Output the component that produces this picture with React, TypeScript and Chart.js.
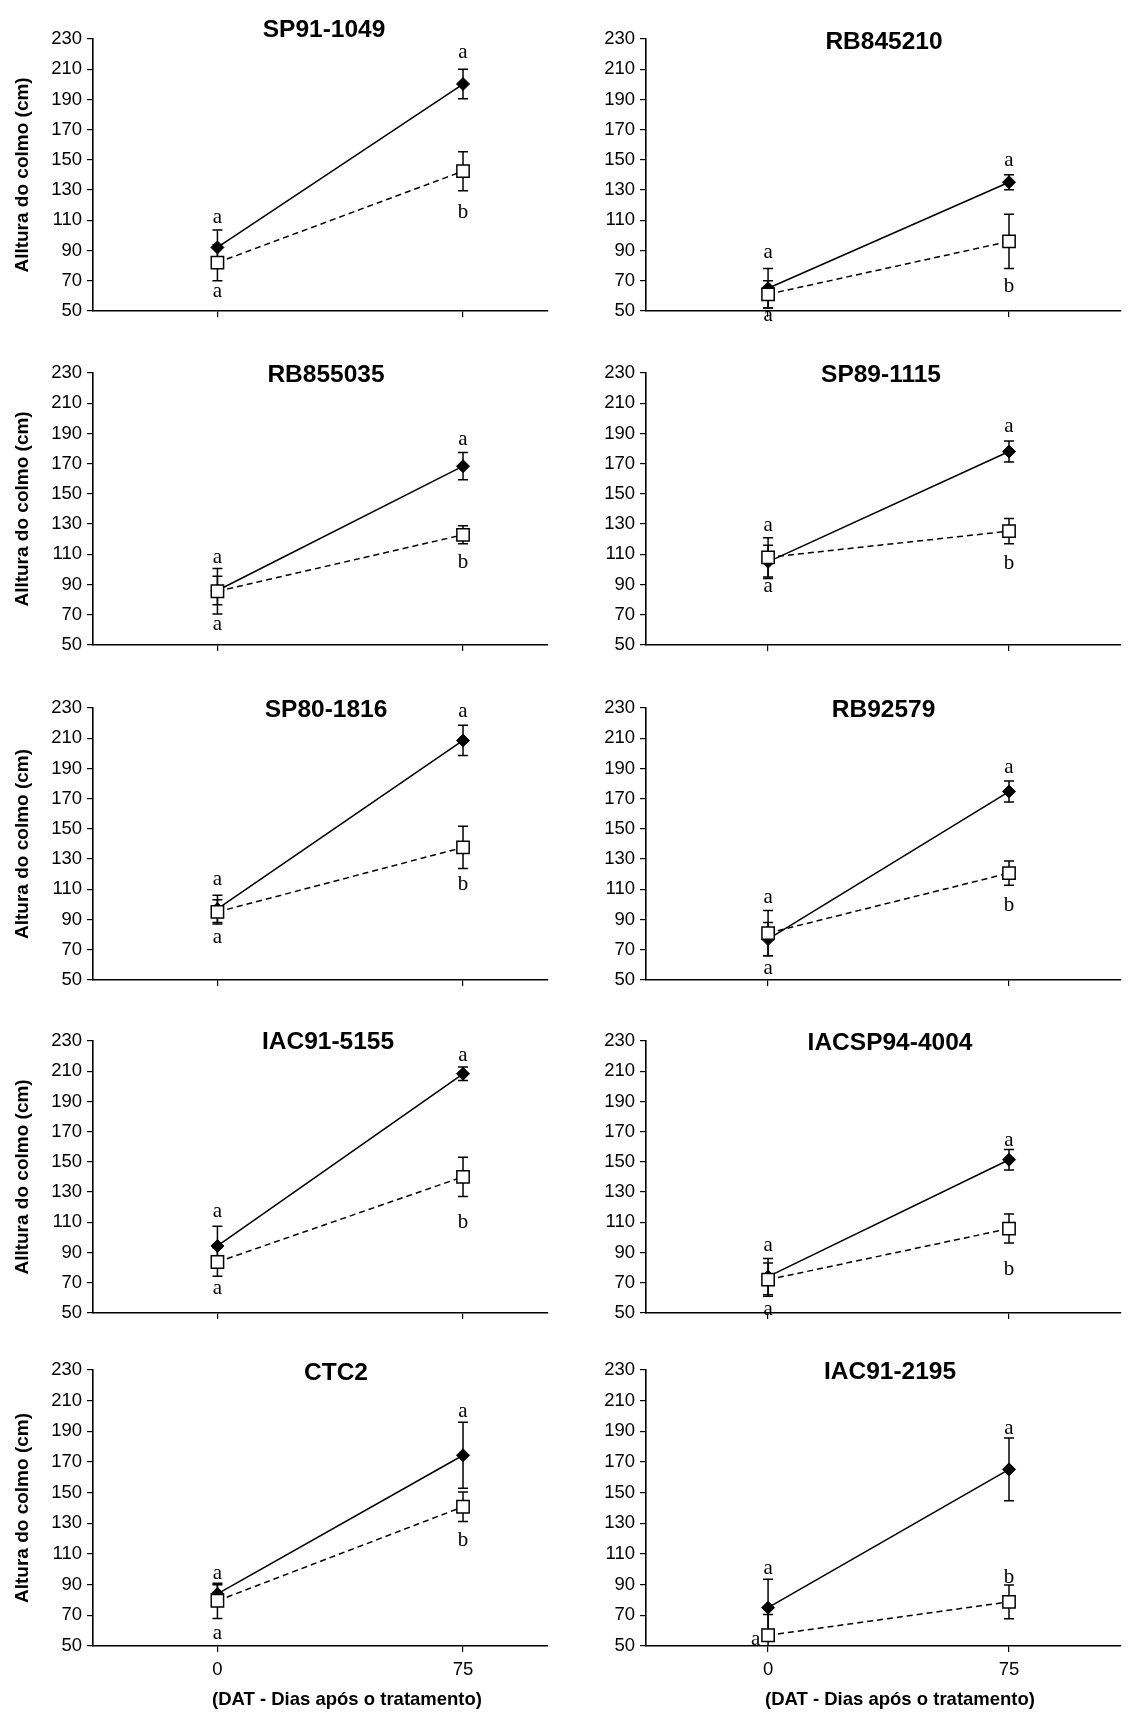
import React, { useEffect, useRef } from 'react';
import { Chart, registerables } from 'chart.js';

Chart.register(...registerables);

// Cultivars, one panel each (left to right, top to bottom)
const cultivars = [
  'SP91-1049', 'RB845210',
  'RB855035', 'SP89-1115',
  'SP80-1816', 'RB92579',
  'IAC91-5155', 'IACSP94-4004',
  'CTC2', 'IAC91-2195',
];

// Sampling days after treatment
const days = [0, 75];

// Stalk height (cm) — filled diamonds, solid line: [0 DAT, 75 DAT]
const diamondMeans = [
  [92, 200.2], [65, 135.2],
  [86, 168.3], [105, 178],
  [97, 208.5], [77, 174.7],
  [94.3, 208.3], [74, 151.4],
  [84, 174.4], [75, 165.2],
];
const diamondErrors = [
  [11.5, 9.7], [13, 5],
  [9.5, 9], [11, 7],
  [9, 10], [11, 7],
  [13, 4.5], [12, 6.8],
  [6, 21.5], [18.5, 20.4],
];

// Stalk height (cm) — open squares, dashed line: [0 DAT, 75 DAT]
const squareMeans = [
  [82, 142.5], [61, 96],
  [85.5, 122.9], [108, 125.3],
  [95, 137.7], [81, 120.7],
  [83.7, 140.1], [72, 105.8],
  [79.5, 140.8], [57, 78.8],
];
const squareErrors = [
  [12, 12.9], [9, 18],
  [15, 6], [13, 8.3],
  [8, 14], [15, 8],
  [9.5, 13], [11, 9.6],
  [11.5, 9.6], [13.5, 11],
];

// Mean-comparison letters: [day, height at the letter baseline (cm), letter]
const letters: [number, number, string][][] = [
  [[0, 108.1, 'a'], [0, 59.1, 'a'], [75, 217.6, 'a'], [75, 111.4, 'b']],
  [[0, 85.3, 'a'], [0, 43.1, 'a'], [75, 146.1, 'a'], [75, 62.6, 'b']],
  [[0, 104, 'a'], [0, 59.7, 'a'], [75, 182.6, 'a'], [75, 100.8, 'b']],
  [[0, 125.3, 'a'], [0, 84.7, 'a'], [75, 191, 'a'], [75, 100.3, 'b']],
  [[0, 113.1, 'a'], [0, 74.6, 'a'], [75, 224.1, 'a'], [75, 109.8, 'b']],
  [[0, 101.1, 'a'], [0, 53.7, 'a'], [75, 187.1, 'a'], [75, 95.7, 'b']],
  [[0, 113.4, 'a'], [0, 62.4, 'a'], [75, 217, 'a'], [75, 106.2, 'b']],
  [[0, 91, 'a'], [0, 48.3, 'a'], [75, 160.5, 'a'], [75, 75, 'b']],
  [[0, 93.9, 'a'], [0, 54.6, 'a'], [75, 199.2, 'a'], [75, 115, 'b']],
  [[0, 97.1, 'a'], [-3.9, 50.7, 'a'], [75, 188.5, 'a'], [75, 91, 'b']],
];

// Axis texts
const yTitles = [
  'Alltura do colmo (cm)',
  'Alltura do colmo (cm)',
  'Altura do colmo (cm)',
  'Alltura do colmo (cm)',
  'Altura do colmo (cm)',
];
const xTitle = '(DAT - Dias após o tratamento)';
const yMin = 50;
const yMax = 230;
const yStep = 20;

// Page layout
const ROW_TOPS = [39, 373, 708, 1041, 1370];
const PLOT_H = 276;
const TOP_PAD = 40;
const X_MIN = -38;
const COLS = [
  { left: 0, width: 560, axisW: 93, padRight: 12.5, xMax: 100.8 },
  { left: 560, width: 571, axisW: 86, padRight: 0, xMax: 109.8 },
];
const TITLE_DX = [231, 238, 233, 235, 233, 237.6, 235, 244, 243, 244];
const TITLE_DROP = [-2, 10, 9, 9, 9, 9, 8, 9, 10, 9];
const SANS = "'Liberation Sans', Arial, Helvetica, sans-serif";
const SERIF = "'Liberation Serif', 'Times New Roman', Times, serif";
const INK = '#000000';

function decorPlugin(index: number, isBottom: boolean) {
  return {
    id: 'panelDecor',
    beforeDatasetsDraw(chart: any) {
      const { ctx, chartArea: area } = chart;
      const xs = chart.scales.x;
      const ys = chart.scales.y;
      ctx.save();
      ctx.beginPath();
      ctx.rect(area.left - 10, area.top - 10, area.width + 20, area.height + 10);
      ctx.clip();
      ctx.strokeStyle = INK;
      ctx.lineWidth = 1.5;
      const groups = [
        [diamondMeans[index], diamondErrors[index]],
        [squareMeans[index], squareErrors[index]],
      ];
      for (const [means, errs] of groups) {
        days.forEach((d, j) => {
          const x = xs.getPixelForValue(d);
          const yTop = ys.getPixelForValue(means[j] + errs[j]);
          const yBot = ys.getPixelForValue(means[j] - errs[j]);
          ctx.beginPath();
          ctx.moveTo(x, yTop);
          ctx.lineTo(x, yBot);
          ctx.moveTo(x - 5, yTop);
          ctx.lineTo(x + 5, yTop);
          ctx.moveTo(x - 5, yBot);
          ctx.lineTo(x + 5, yBot);
          ctx.stroke();
        });
      }
      ctx.restore();
    },
    afterDraw(chart: any) {
      const { ctx, chartArea: area } = chart;
      const xs = chart.scales.x;
      const ys = chart.scales.y;
      ctx.save();
      ctx.fillStyle = INK;

      // cultivar name
      ctx.font = `bold 24.5px ${SANS}`;
      ctx.textAlign = 'center';
      ctx.textBaseline = 'alphabetic';
      ctx.fillText(cultivars[index], area.left + TITLE_DX[index], area.top + TITLE_DROP[index]);

      // comparison letters
      ctx.font = `21px ${SERIF}`;
      for (const [d, v, t] of letters[index]) {
        ctx.fillText(t, xs.getPixelForValue(d), ys.getPixelForValue(v));
      }

      // x-axis title on the bottom row
      if (isBottom) {
        ctx.font = `bold 18.5px ${SANS}`;
        ctx.textBaseline = 'middle';
        ctx.fillText(xTitle, area.left + 254, area.bottom + 54);
      }
      ctx.restore();
    },
  };
}

function Panel({ index }: { index: number }) {
  const ref = useRef<HTMLCanvasElement>(null);
  const row = Math.floor(index / 2);
  const col = COLS[index % 2];
  const isLeft = index % 2 === 0;
  const isBottom = row === ROW_TOPS.length - 1;
  const xH = isBottom ? 66 : 12;
  const height = TOP_PAD + PLOT_H + xH;
  const top = ROW_TOPS[row] - TOP_PAD;

  useEffect(() => {
    if (!ref.current) return;
    const axisGrid = {
      display: true,
      drawOnChartArea: false,
      drawTicks: true,
      tickLength: 6,
      color: INK,
      lineWidth: 1.2,
    };
    const axisBorder = { display: true, color: INK, width: 1.6 };

    const chart = new Chart(ref.current, {
      type: 'line',
      data: {
        datasets: [
          {
            label: 'open',
            data: days.map((d, j) => ({ x: d, y: squareMeans[index][j] })),
            borderColor: INK,
            borderWidth: 1.5,
            borderDash: [6, 4],
            tension: 0,
            pointStyle: 'rect',
            pointRadius: 8.7,
            pointBackgroundColor: '#ffffff',
            pointBorderColor: INK,
            pointBorderWidth: 1.5,
            order: 0,
          },
          {
            label: 'filled',
            data: days.map((d, j) => ({ x: d, y: diamondMeans[index][j] })),
            borderColor: INK,
            borderWidth: 1.5,
            tension: 0,
            pointStyle: 'rectRot',
            pointRadius: 6.5,
            pointBackgroundColor: INK,
            pointBorderColor: INK,
            pointBorderWidth: 1,
            order: 1,
          },
        ],
      },
      options: {
        animation: false,
        responsive: false,
        devicePixelRatio: 1,
        events: [],
        layout: { padding: { top: TOP_PAD, left: 0, right: col.padRight, bottom: 0 } },
        plugins: {
          legend: { display: false },
          tooltip: { enabled: false },
          title: { display: false },
        },
        scales: {
          x: {
            type: 'linear',
            position: 'bottom',
            bounds: 'data',
            min: X_MIN,
            max: col.xMax,
            afterBuildTicks: (s: any) => {
              s.ticks = days.map((v) => ({ value: v }));
            },
            afterFit: (s: any) => {
              s.height = xH;
            },
            grid: axisGrid,
            border: axisBorder,
            ticks: {
              display: isBottom,
              padding: 7,
              color: INK,
              font: { family: SANS, size: 18.5 },
              maxRotation: 0,
              autoSkip: false,
            },
          },
          y: {
            type: 'linear',
            min: yMin,
            max: yMax,
            afterFit: (s: any) => {
              s.width = col.axisW;
            },
            grid: axisGrid,
            border: axisBorder,
            ticks: {
              stepSize: yStep,
              padding: 5,
              color: INK,
              font: { family: SANS, size: 18.5 },
            },
            title: {
              display: isLeft,
              text: yTitles[row],
              color: INK,
              font: { family: SANS, size: 19, weight: 'bold' },
              padding: { top: 11.6, bottom: 0 },
            },
          },
        },
      } as any,
      plugins: [decorPlugin(index, isBottom)],
    });
    return () => chart.destroy();
  }, [index]);

  return (
    <canvas
      ref={ref}
      width={col.width}
      height={height}
      style={{
        position: 'absolute',
        left: col.left,
        top,
        width: col.width,
        height,
        display: 'block',
      }}
    />
  );
}

export default function App() {
  return (
    <div
      style={{
        position: 'absolute',
        left: 0,
        top: 0,
        width: 1131,
        height: 1713,
        overflow: 'hidden',
        background: '#ffffff',
      }}
    >
      {cultivars.map((_, i) => (
        <Panel key={i} index={i} />
      ))}
    </div>
  );
}
